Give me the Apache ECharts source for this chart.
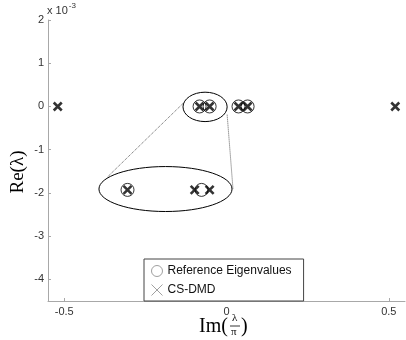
<!DOCTYPE html>
<html>
<head>
<meta charset="utf-8">
<script src="https://cdn.jsdelivr.net/npm/echarts@6/dist/echarts.min.js"></script>
<style>
  html, body { margin: 0; padding: 0; background: #fff; }
  #chart { width: 406px; height: 340px; }
</style>
</head>
<body>
<div id="chart"></div>
<script>
    // eigenvalues, Re in units of 1e-3, Im / pi
    var csdmdIm = [-0.52, -0.083, -0.052, 0.037, 0.065, 0.52];
    var csdmdRe = [0, 0, 0, 0, 0, 0];
    var refIm = [-0.083, -0.052, 0.037, 0.065];
    var refRe = [0, 0, 0, 0];

    // zoomed inset (drawn in the plot area)
    var insetCsIm = [-0.305, -0.098, -0.052];
    var insetCsRe = [-1.93, -1.93, -1.93];
    var insetRefIm = [-0.305, -0.077];
    var insetRefRe = [-1.93, -1.93];

    // ellipses: [cx, cy, rx, ry]
    var ellipses = [[-0.066, -0.01, 0.068, 0.34], [-0.188, -1.91, 0.205, 0.52]];
    // connector segments: [x1, y1, x2, y2]
    var connectors = [[-0.134, 0.07, -0.368, -1.64], [0.002, -0.19, 0.02, -1.91]];

    var xTicks = [-0.5, 0, 0.5];
    var yTicks = [2, 1, 0, -1, -2, -3, -4];

    var crossPath = 'path://M0,0L10,10M0,10L10,0';
    var font = '"Liberation Sans", Arial, sans-serif';
    var serif = '"Liberation Serif", "Times New Roman", serif';

    function zip(a, b) {
        return a.map(function (v, i) { return [v, b[i]]; });
    }

    var chart = echarts.init(document.getElementById('chart'), null, {renderer: 'canvas'});

    var option = {
        animation: false,
        grid: {left: 48, right: 1, top: 20, bottom: 39},
        xAxis: {
            type: 'value',
            min: -0.55,
            max: 0.55,
            splitLine: {show: false},
            axisLine: {onZero: false, lineStyle: {color: '#a8a8a8', width: 1}},
            axisTick: {inside: true, length: 3, customValues: xTicks, lineStyle: {color: '#a8a8a8'}},
            axisLabel: {customValues: xTicks, color: '#333', fontSize: 11, fontFamily: font, margin: 5}
        },
        yAxis: {
            type: 'value',
            min: -4.5,
            max: 2,
            splitLine: {show: false},
            axisLine: {onZero: false, lineStyle: {color: '#a8a8a8', width: 1}},
            axisTick: {inside: true, length: 3, customValues: yTicks, lineStyle: {color: '#a8a8a8'}},
            axisLabel: {customValues: yTicks, color: '#333', fontSize: 11, fontFamily: font, margin: 4}
        },
        legend: {
            left: 144,
            top: 259,
            orient: 'vertical',
            backgroundColor: '#fff',
            borderColor: '#444',
            borderWidth: 1,
            borderRadius: 0,
            padding: [4, 12, 3, 5],
            itemGap: 3,
            itemWidth: 11,
            itemHeight: 11,
            textStyle: {color: '#111', fontSize: 12, fontFamily: font},
            data: [
                {name: 'Reference Eigenvalues', icon: 'circle',
                    itemStyle: {color: 'none', borderColor: '#888', borderWidth: 1}},
                {name: 'CS-DMD', icon: crossPath,
                    itemStyle: {color: 'none', borderColor: '#888', borderWidth: 1}}
            ]
        },
        series: [
            {
                type: 'custom',
                name: 'ellipses',
                silent: true,
                renderItem: function (params, api) {
                    var c = api.coord([api.value(0), api.value(1)]);
                    var s = api.size([api.value(2), api.value(3)]);
                    return {
                        type: 'ellipse',
                        shape: {cx: c[0], cy: c[1], rx: s[0], ry: s[1]},
                        style: {fill: 'none', stroke: '#000', lineWidth: 1}
                    };
                },
                data: ellipses
            },
            {
                type: 'custom',
                name: 'connectors',
                silent: true,
                renderItem: function (params, api) {
                    var p1 = api.coord([api.value(0), api.value(1)]);
                    var p2 = api.coord([api.value(2), api.value(3)]);
                    return {
                        type: 'line',
                        shape: {x1: p1[0], y1: p1[1], x2: p2[0], y2: p2[1]},
                        style: {stroke: '#333', lineWidth: 0.8, lineDash: [1, 1]}
                    };
                },
                data: connectors
            },
            {
                type: 'scatter',
                name: 'Reference Eigenvalues',
                symbol: 'circle',
                symbolSize: 13,
                itemStyle: {color: 'none', borderColor: '#000', borderWidth: 1},
                data: zip(refIm, refRe).concat(zip(insetRefIm, insetRefRe))
            },
            {
                type: 'scatter',
                name: 'CS-DMD',
                symbol: crossPath,
                symbolSize: 8,
                itemStyle: {color: 'none', borderColor: '#000', borderWidth: 2.6},
                data: zip(csdmdIm, csdmdRe).concat(zip(insetCsIm, insetCsRe))
            }
        ],
        graphic: [
            {
                type: 'text', left: 47, top: 2,
                style: {
                    text: '{a|x 10}{b|-3}',
                    rich: {
                        a: {fontSize: 11, fontFamily: font, fill: '#333', padding: [6, 0, 0, 0]},
                        b: {fontSize: 8, fontFamily: font, fill: '#333', padding: [0, 0, 4, 1]}
                    }
                }
            },
            {
                type: 'text', x: 18, y: 172, rotation: Math.PI / 2,
                style: {text: 'Re(λ)', fontSize: 19, fontFamily: serif, fill: '#000',
                    align: 'center', verticalAlign: 'middle'}
            },
            {
                type: 'group', left: 199, top: 313,
                children: [
                    {type: 'text', x: 0, y: 4, style: {text: 'Im(', fontSize: 20, fontFamily: serif, fill: '#000'}},
                    {type: 'text', x: 33, y: 0, style: {text: 'λ', fontSize: 11, fontFamily: serif, fill: '#000'}},
                    {type: 'line', shape: {x1: 31, y1: 13, x2: 41, y2: 13}, style: {stroke: '#000', lineWidth: 0.8}},
                    {type: 'text', x: 32, y: 14, style: {text: 'π', fontSize: 11, fontFamily: serif, fill: '#000'}},
                    {type: 'text', x: 42, y: 4, style: {text: ')', fontSize: 20, fontFamily: serif, fill: '#000'}}
                ]
            }
        ]
    };

    chart.setOption(option, true);
</script>
</body>
</html>
